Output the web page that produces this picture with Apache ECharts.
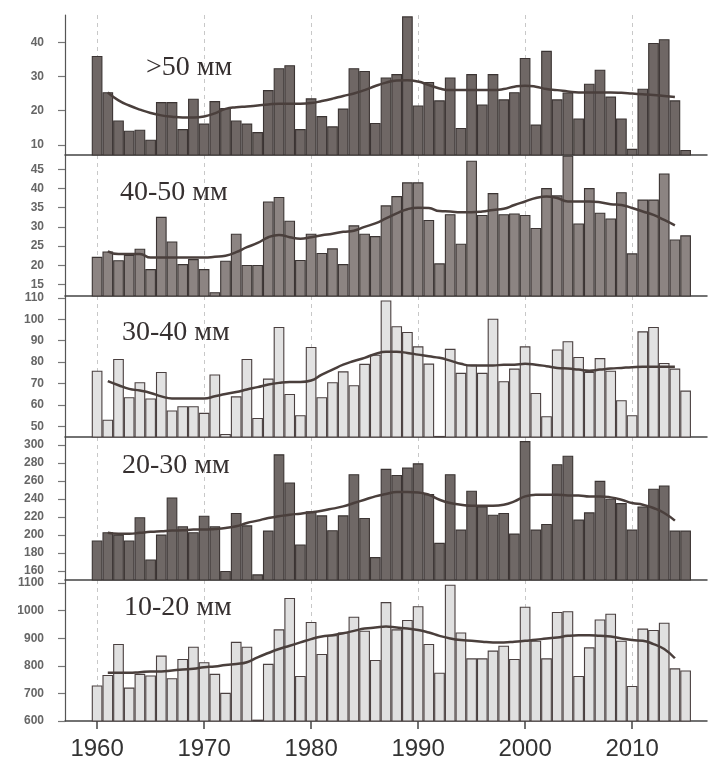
<!DOCTYPE html>
<html><head><meta charset="utf-8">
<script src="https://cdn.jsdelivr.net/npm/echarts@6.0.0/dist/echarts.min.js"></script>
<style>html,body{margin:0;padding:0;background:#fff}#c{width:712px;height:765px}</style>
</head><body><div id="c"></div><script>
// ---- data ----
const years = [1960,1961,1962,1963,1964,1965,1966,1967,1968,1969,1970,1971,1972,1973,1974,1975,1976,1977,1978,1979,1980,1981,1982,1983,1984,1985,1986,1987,1988,1989,1990,1991,1992,1993,1994,1995,1996,1997,1998,1999,2000,2001,2002,2003,2004,2005,2006,2007,2008,2009,2010,2011,2012,2013,2014,2015];
const trendYears = [1961,1962,1963,1964,1965,1966,1967,1968,1969,1970,1971,1972,1973,1974,1975,1976,1977,1978,1979,1980,1981,1982,1983,1984,1985,1986,1987,1988,1989,1990,1991,1992,1993,1994,1995,1996,1997,1998,1999,2000,2001,2002,2003,2004,2005,2006,2007,2008,2009,2010,2011,2012,2013,2014];
const axisPadBefore = [1957,1958,1959];
const axisPadAfter = [2016,2017];

const panelLabels = ['>50 мм','40-50 мм','30-40 мм','20-30 мм','10-20 мм'];

const bars50 = [36,25.4,17.1,14.1,14.4,11.5,22.5,22.5,14.6,23.5,16.2,22.8,20.8,17.1,16.2,13.7,26,32.4,33.3,14.6,23.6,18.4,15.4,20.6,32.4,31.6,16.4,29.7,30.7,47.6,21.5,28.4,23,29.7,14.9,30.7,21.8,30.7,23.3,25.4,35.4,15.9,37.5,23.3,25.3,17.7,27.9,32,24.1,17.7,8.8,26.4,39.8,40.9,23,8.5];
const bars4050 = [22.2,23.6,21.3,22.7,24.3,19,32.6,26.2,20.3,21.6,19,13,21.2,28.2,20.1,20.1,36.6,37.8,31.6,21.4,28.2,23.2,24.4,20.3,30.4,28.2,27.6,35.6,38,41.6,41.6,31.8,20.5,33.3,25.6,47.2,33.1,38.8,33.3,33.5,33.1,29.7,40.1,38.2,48.5,30.9,40.1,33.7,32.2,39,23.1,37.1,37.1,43.9,26.7,27.8];
const bars3040 = [76,53.1,81.5,63.6,70.6,63,75.4,57.4,59.4,59.4,56.3,74.2,46.4,64,81.5,53.9,72.3,96.4,65.1,55.2,87.1,63.6,70.6,75.7,69.2,79.2,83.5,108.8,96.8,94.1,87.4,79.3,45.5,86.2,75,78.8,75,100.3,71.1,77,87.4,65.6,54.7,85.9,89.8,82.4,75.4,81.9,76,62.2,55.2,94.4,96.4,79.6,77,66.7];
const bars2030 = [193.9,203.1,200.5,193.9,219.7,172.9,200.5,241.8,209.7,203.1,221.5,209.7,160,224.5,210.8,156.3,204.9,289.7,258.4,189.5,226.3,221.9,205.3,221.9,267.6,218.9,175.5,273.5,266.8,274.9,279.7,245.5,191.3,267.6,206,249.2,231.8,222.6,224.5,201.6,304.4,206,212.3,278.6,288.2,217.1,225.2,260.2,240.3,235.5,206,231.8,251.4,255.1,204.9,204.9];
const bars1020 = [729,767,879,721,771,765,837,755,825,869,813,771,702,887,869,605,807,932,1046,763,959,843,911,921,978,927,821,1031,932,966,1016,879,775,1094,921,827,827,855,873,825,1014,891,827,995,998,763,867,968,989,891,727,935,930,956,791,783];

const trend50 = [25.3,23,21.5,20.3,19.3,18.6,18.2,18,18,18.3,19.2,20.5,21,21.2,21.5,21.8,22,22,22,22.2,22.8,23.5,24.3,25,26,27.2,28.2,28.8,28.9,28.5,27.5,26.5,26,26,26,26,26,26.3,27,27.3,27,26.3,26,25.6,25.3,25.3,25.3,25.3,25.2,25,24.8,24.6,24.3,24];
const trend4050 = [23.6,22.9,22.9,22.9,22,22,22,22,22,22,22.2,22.5,23.4,24.7,25.8,27.3,27.9,27.3,26.9,27.3,27.8,28.2,28.7,29,30,30.9,32.2,33.5,34.6,35,34.9,34.1,34,33.8,33.8,34,34.4,34.7,35.7,36.6,37.5,37.9,37.5,36.6,36.6,36.6,36.4,35.9,35.7,34.9,34,33.1,31.8,30.4];
const trend3040 = [71.1,69.2,67.5,66.7,65.6,64,63,63,63,63,64,65.1,66,67.2,68.3,69.5,70.3,70.7,70.7,71.4,74.2,76.5,78.8,80.5,82,83.8,84.8,84.8,84.3,83.5,82.7,82,80.7,79.2,78.4,78.4,78.4,78.8,78.8,79.2,78.8,78.1,77.3,77,76.5,76,76.5,77,77.3,77.6,77.8,77.8,77.8,77.8];
const trend2030 = [202.4,201.3,201.3,202.4,203.5,204.2,204.9,205.3,206,206,206.8,207.9,209.7,213.4,216,218.9,220.8,222.6,223.7,225.2,227,229.3,231.8,235.5,239.2,242.9,245.5,247.7,247.7,247.3,244.7,239.2,235.5,233.7,232.6,232.6,232.6,233.7,237.4,242.9,244.7,244.7,244.7,244,244,242.9,242.9,241.8,239.2,235.5,233.7,230,224.5,216];
const trend1020 = [774.6,774.6,774.6,777,779.4,779.4,783,786.6,789,795,797.4,803.3,806.9,812.9,830.9,846.4,860.8,872.7,884.7,896.7,906.2,911,918.2,926.6,934.9,938.5,942.1,938.5,934.9,930.1,920.6,908.6,899.1,893.1,890.7,887.1,884.7,884.7,887.1,890.7,894.3,899.1,902.6,908.6,911,911,908.6,906.2,899.1,893.1,890.7,878.7,860.8,827.3];

const ticks50 = [10,20,30,40];
const ticks4050 = [15,20,25,30,35,40,45];
const ticks3040 = [50,60,70,80,90,100,110];
const ticks2030 = [160,180,200,220,240,260,280,300];
const ticks1020 = [600,700,800,900,1000,1100];
const xTickYears = [1960,1970,1980,1990,2000,2010];

// ---- layout / styles ----
const cats = axisPadBefore.concat(years, axisPadAfter).map(String);
function alignTo(ys, vals){
  const m = {}; ys.forEach((y,i)=>{m[y]=vals[i];});
  return cats.map(c => (m[+c] === undefined ? null : m[+c]));
}
const panels = [
  {top:15, bottom:155, min:7, max:48, bars:bars50, trend:trend50, ticks:ticks50, fill:'#6f6765', border:'#3b3433', titleLeft:141, titleTop:49},
  {top:155, bottom:296, min:12, max:48.7, bars:bars4050, trend:trend4050, ticks:ticks4050, fill:'#8c8482', border:'#3b3433', titleLeft:115, titleTop:174},
  {top:296, bottom:437, min:45, max:110.9, bars:bars3040, trend:trend3040, ticks:ticks3040, fill:'#e2e2e2', border:'#4a4040', titleLeft:117, titleTop:314},
  {top:437, bottom:580, min:150, max:308.9, bars:bars2030, trend:trend2030, ticks:ticks2030, fill:'#6f6866', border:'#3b3433', titleLeft:117, titleTop:447},
  {top:580, bottom:721, min:600, max:1110.9, bars:bars1020, trend:trend1020, ticks:ticks1020, fill:'#e0e0e0', border:'#4a4040', titleLeft:119, titleTop:589}
];
const isDecade = (idx, val) => xTickYears.indexOf(+val) >= 0;

const option = {
  animation:false,
  backgroundColor:'#fff',
  title: panels.map((p,i)=>({
    text: panelLabels[i], left:p.titleLeft, top:p.titleTop,
    textStyle:{fontFamily:'Liberation Serif', fontSize:28, fontWeight:'normal', color:'#363030'}
  })),
  grid: panels.map(p=>({left:65, right:5, top:p.top, height:p.bottom-p.top, containLabel:false})),
  xAxis: panels.map((p,i)=>({
    type:'category', gridIndex:i, data:cats, boundaryGap:false,
    axisLine:{show:true, lineStyle:{color:'#444', width:1.5}},
    axisTick:{show:i===4, interval:isDecade, length:8, lineStyle:{color:'#444', width:1.5}},
    axisLabel:{show:i===4, interval:isDecade, fontFamily:'Liberation Sans', fontSize:24, color:'#333', margin:16},
    splitLine:{show:true, interval:isDecade, lineStyle:{color:'#c8c8c8', type:[4,4], width:1}}
  })),
  yAxis: panels.map((p,i)=>({
    type:'value', gridIndex:i, min:p.min, max:p.max,
    axisLine:{show:true, lineStyle:{color:'#555', width:1.2}},
    axisTick:{show:true, customValues:p.ticks, length:7, inside:false, lineStyle:{color:'#777', width:1.2}},
    axisLabel:{show:true, customValues:p.ticks, formatter:(v)=>String(v), fontFamily:'Liberation Sans', fontSize:12, fontWeight:'bold', color:'#666', margin:21},
    splitLine:{show:false}
  })),
  series: panels.flatMap((p,i)=>[
    {type:'bar', xAxisIndex:i, yAxisIndex:i, data:alignTo(years,p.bars), barWidth:10.7,
     itemStyle:{color:p.fill, borderColor:p.border, borderWidth:1.1}, z:2},
    {type:'line', xAxisIndex:i, yAxisIndex:i, data:alignTo(trendYears,p.trend), smooth:true, showSymbol:false,
     lineStyle:{color:'#4a3f3c', width:2.5}, z:3}
  ])
};
echarts.init(document.getElementById('c')).setOption(option);
</script></body></html>
